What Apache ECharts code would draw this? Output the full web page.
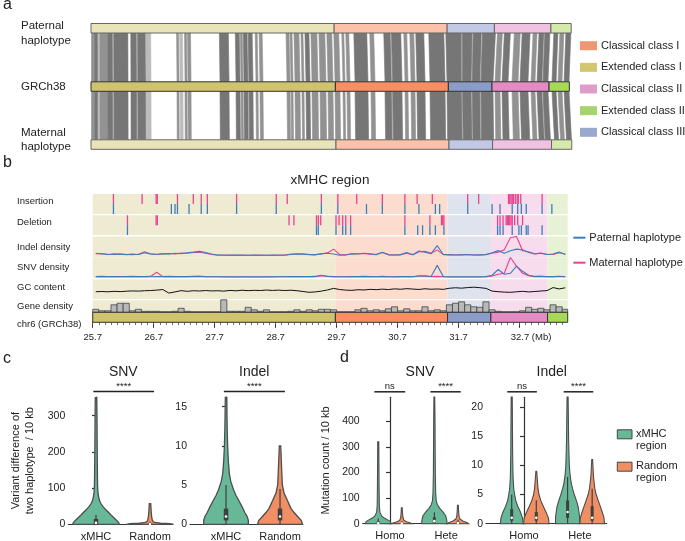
<!DOCTYPE html>
<html>
<head>
<meta charset="utf-8">
<script src="https://cdn.jsdelivr.net/npm/echarts@6.0.0/dist/echarts.min.js"></script>
<style>
html,body{margin:0;padding:0;background:#fff;}
#chart{width:685px;height:541px;}
</style>
</head>
<body>
<div id="chart"></div>
<script>
// ======================= DATA =======================
// ---- Panel a : haplotype alignment ----
const regionNames = ['Extended class I', 'Classical class I', 'Classical class III', 'Classical class II', 'Extended class II'];
const grchBounds = [25.7, 29.68, 31.52, 32.23, 33.16, 33.49];
const paternalBounds = [25.7, 29.66, 31.50, 32.27, 33.19, 33.52];
const maternalBounds = [25.7, 29.69, 31.53, 32.24, 33.20, 33.53];
const haplotypeLabels = ['Paternal\nhaplotype', 'GRCh38', 'Maternal\nhaplotype'];
const legendRegionOrder = ['Classical class I', 'Extended class I', 'Classical class II', 'Extended class II', 'Classical class III'];
// aligned blocks on GRCh38 [start Mb, end Mb, shade 0 dark / 1 mid / 2 light]
const syntenyBlocks = [
  [25.708, 25.765, 1], [25.765, 25.814, 0], [25.814, 25.847, 2], [25.847, 25.977, 1],
  [25.977, 26.058, 0], [26.058, 26.075, 2], [26.075, 26.303, 0], [26.351, 26.449, 0], [26.449, 26.465, 2], [26.465, 26.596, 0],
  [26.596, 26.677, 2], [27.101, 27.133, 1], [27.150, 27.198, 2], [27.231, 27.264, 1],
  [27.280, 27.329, 1], [27.801, 27.948, 0], [28.062, 28.127, 0], [28.143, 28.176, 1],
  [28.192, 28.262, 0], [28.262, 28.275, 2], [28.275, 28.338, 0], [28.387, 28.420, 1], [28.452, 28.501, 1], [28.892, 28.941, 1],
  [28.957, 28.990, 1], [29.022, 29.104, 1], [29.136, 29.169, 1], [29.202, 29.267, 0],
  [29.299, 29.397, 1], [29.430, 29.527, 1], [29.560, 29.641, 1], [29.674, 29.755, 1],
  [29.804, 29.837, 1], [29.869, 29.918, 1], [30.000, 30.211, 0], [30.260, 30.325, 1],
  [30.488, 30.600, 0], [30.600, 30.615, 2], [30.615, 30.765, 0], [30.814, 30.863, 1], [30.912, 30.977, 1], [31.009, 31.140, 0],
  [31.221, 31.466, 0], [31.498, 31.740, 0], [31.740, 31.752, 2], [31.752, 31.900, 0], [31.900, 31.912, 2],
  [31.912, 32.040, 0], [32.040, 32.052, 2], [32.052, 32.247, 0], [32.280, 32.361, 1], [32.394, 32.492, 0],
  [32.557, 32.655, 1], [32.687, 32.817, 0], [32.866, 32.931, 1], [32.964, 33.050, 0], [33.050, 33.062, 2], [33.062, 33.143, 0],
  [33.208, 33.274, 0], [33.306, 33.371, 1], [33.404, 33.485, 0]
];

// ---- Panel b : xMHC region tracks ----
const trackLabels = ['Insertion', 'Deletion', 'Indel density', 'SNV density', 'GC content', 'Gene density', 'chr6 (GRCh38)'];
const insertionMaternal = [26.04, 26.51, 26.74, 26.76, 27.09, 27.35, 27.48, 27.58, 28.06, 28.71, 28.89, 29.45, 29.72, 30.03, 30.45, 30.82, 31.02, 31.27, 31.85, 32.03, 32.52, 32.54, 32.56, 32.58, 32.60, 32.63, 32.66, 32.68, 32.72, 33.07];
const insertionPaternal = [26.04, 26.99, 27.05, 27.09, 27.28, 27.48, 27.58, 28.06, 28.71, 29.45, 29.72, 30.19, 30.45, 30.82, 31.05, 31.32, 31.39, 31.85, 32.25, 32.38, 32.58, 32.67, 32.73, 32.81, 33.07, 33.23];
const deletionMaternal = [26.27, 26.74, 26.76, 28.92, 29.00, 29.37, 29.40, 29.44, 29.69, 29.74, 29.80, 29.85, 29.93, 30.82, 31.23, 31.42, 31.44, 31.46, 32.34, 32.38, 32.43, 32.48, 32.50, 32.52, 32.54, 32.56, 32.58, 32.62, 32.67, 32.75];
const deletionPaternal = [26.27, 29.37, 29.40, 29.69, 29.80, 29.85, 29.93, 30.82, 31.03, 31.11, 31.23, 31.32, 31.46, 32.34, 32.38, 32.43, 32.58, 32.69, 32.73, 32.81, 32.84, 33.07];
const binStart = 25.7, binWidth = 0.1;
const indelDensityPaternal = [1.2,0.8,0.6,0.9,0.7,0.5,0.8,0.6,1.5,0.9, 0.7,1.0,0.8,1.2,1.0,1.5,1.8,2.2,1.6,0.8, 0.3,0.3,0.2,0.3,0.2,0.2,0.3,0.2,0.2,0.3, 0.2,0.2,0.6,0.8,0.7,0.5,0.4,0.9,1.2,0.8, 0.2,0.3,1.0,0.8,1.2,0.9,0.6,1.8,0.4,0.3, 0.5,1.6,0.4,2.4,1.8,1.0,5.2,0.6,0.5,0.3, 0.4,0.6,0.3,0.4,0.5,1.5,2.6,1.2,2.5,3.4, 3.0,1.6,0.8,1.2,0.6,0.8,1.9,0.6];
const indelDensityMaternal = [1.0,1.1,0.7,0.6,0.9,0.6,0.5,0.7,2.0,0.8, 0.6,0.9,1.1,0.9,1.3,1.2,1.6,1.8,1.2,0.6, 0.2,0.2,0.3,0.2,0.3,0.2,0.2,0.3,0.2,0.2, 0.3,0.3,0.8,1.0,0.9,0.6,0.5,1.0,1.4,3.4, 0.5,0.4,0.9,1.0,1.1,0.7,0.5,1.6,0.5,0.3, 0.4,1.2,0.5,2.0,2.2,1.2,3.0,0.5,0.4,0.3, 0.5,0.5,0.3,0.4,0.6,1.2,1.8,3.0,9.3,10.0, 2.5,2.0,1.0,1.3,0.7,0.6,1.5,0.8];
const snvDensityPaternal = [0.3,0.4,0.3,0.3,0.2,0.3,0.4,0.3,0.3,0.2, 0.3,0.3,0.4,0.3,0.3,0.3,0.4,0.5,0.3,0.2, 0.2,0.2,0.2,0.2,0.2,0.2,0.2,0.2,0.2,0.2, 0.2,0.2,0.3,0.3,0.3,0.3,0.4,1.0,0.5,0.3, 0.2,0.2,0.3,0.3,0.4,0.3,0.2,0.4,0.2,0.2, 0.3,0.3,0.2,0.6,0.7,0.4,6.0,0.3,0.2,0.2, 0.2,0.2,0.2,0.2,0.3,1.0,3.9,1.5,2.0,5.6, 3.0,1.0,0.4,0.5,0.3,0.3,0.5,0.3];
const snvDensityMaternal = [0.2,0.3,0.2,0.2,0.3,0.2,0.3,0.2,0.3,0.4, 2.5,0.3,0.2,0.3,0.2,0.3,0.3,0.4,0.2,0.2, 0.2,0.1,0.2,0.1,0.2,0.1,0.2,0.1,0.2,0.1, 0.2,0.2,0.2,0.3,0.2,0.3,0.3,0.8,0.4,0.3, 0.2,0.2,0.2,0.3,0.3,0.2,0.2,0.3,0.2,0.1, 0.2,0.2,0.2,0.7,0.5,0.3,0.4,0.2,0.1,0.1, 0.1,0.1,0.1,0.1,0.2,0.6,1.5,2.0,10.0,5.6, 2.0,0.8,0.3,0.4,0.2,0.2,0.3,0.2];
const gcContent = [37.4,37.6,37.3,37.8,37.5,37.9,38.2,38.0,38.4,38.6, 39.0,39.6,36.0,37.2,38.5,37.8,38.4,38.1,38.6,38.2, 38.4,38.0,38.7,38.3,38.9,38.5,38.8,38.6,39.1,38.7, 39.0,38.6,38.9,38.4,37.6,36.8,37.2,38.0,39.2, 40.8,39.6,39.0,38.8,39.4,39.2,39.8,39.5,40.0,39.6,40.3,39.9,40.5,40.1,39.7,40.4,39.9,40.2,39.8, 40.9,41.4,41.0,41.6,42.0,41.5,40.8, 38.0,37.4,37.0,36.8,37.3,37.8,37.2,37.6,38.1,38.5, 41.6,40.2,41.4];
const geneDensity = [3,1.5,1.5,7.5,9,9,1.5,3,1,1, 1,0.5,0.5,1,4,1,0.5,0.5,0.5,0.5, 0.5,12.5,1,1,1,5,2.5,1,2.5,0.5, 0.5,0.5,1,2.5,1,2.5,1.5,3,3,2.5, 0.5,0.5,0.5,2.5,4,1.5,2.5,1.5,3.5,5.5, 1.5,3.5,1.5,1.5,5.5,1.5,2.5,1.5,7.5,9, 10.5,7.5,5.5,5,10.5,2.5,1,0.5,0.5,0.5, 1.5,5,3,4,2.5,7.5,5.5,3];
const bTickValues = [25.7, 26.7, 27.7, 28.7, 29.7, 30.7, 31.7, 32.7];
const bTickLabels = ['25.7', '26.7', '27.7', '28.7', '29.7', '30.7', '31.7', '32.7 (Mb)'];
const haplotypeNames = ['Paternal haplotype', 'Maternal haplotype'];

// ---- Panel c : variant difference violins ----
const cCategories = ['xMHC', 'Random'];
const cSnvTicks = [0, 100, 200, 300];
const cIndelTicks = [0, 5, 10, 15];
const cSnvXmhcProfile = [[0,0.97],[3,0.98],[8,0.92],[12,0.86],[18,0.76],[25,0.65],[31,0.56],[40,0.42],[49,0.3],[58,0.2],[67,0.14],[86,0.085],[110,0.065],[200,0.05],[300,0.04],[350,0.03]];
const cSnvRandomProfile = [[0,1.0],[1.5,0.85],[3,0.45],[5,0.2],[8,0.12],[12,0.1],[20,0.07],[35,0.05],[57,0.03]];
const cIndelXmhcProfile = [[0,0.95],[0.5,0.95],[1,0.9],[1.5,0.8],[2.25,0.68],[3,0.55],[3.7,0.42],[4.4,0.32],[5.5,0.2],[6.5,0.14],[8,0.1],[9.9,0.07],[12,0.05],[16.2,0.03]];
const cIndelRandomProfile = [[0,0.96],[0.5,0.9],[1,0.75],[1.5,0.6],[2,0.47],[3,0.32],[4,0.17],[5,0.1],[7,0.07],[10,0.03]];
const cSnvXmhcBox = [0, 1, 4, 15, 26];
const cSnvRandomBox = [0, 0, 1, 3, 8];
const cIndelXmhcBox = [0, 0.5, 1, 2, 5];
const cIndelRandomBox = [0, 0.5, 1, 2, 4.5];
const cSigLabels = ['****', '****'];

// ---- Panel d : mutation count violins ----
const dCategories = ['Homo', 'Hete'];
const dGroups = ['xMHC\nregion', 'Random\nregion'];
const dSnvTicks = [0, 100, 200, 300, 400];
const dIndelTicks = [0, 5, 10, 15, 20];
const dSnvHomoXmhc = [[0,0.95],[8,0.9],[15,0.7],[22,0.45],[30,0.25],[45,0.12],[70,0.08],[150,0.06],[320,0.04]];
const dSnvHomoRandom = [[0,0.75],[4,0.6],[8,0.35],[14,0.15],[25,0.08],[45,0.05],[62,0.03]];
const dSnvHeteXmhc = [[0,0.95],[15,0.92],[30,0.85],[45,0.65],[60,0.4],[75,0.22],[90,0.14],[120,0.1],[200,0.07],[400,0.05],[495,0.03]];
const dSnvHeteRandom = [[0,0.8],[4,0.7],[10,0.4],[18,0.15],[30,0.08],[50,0.05],[72,0.03]];
const dIndelHomoXmhc = [[0,0.85],[1,0.8],[2,0.65],[3,0.45],[4,0.3],[5,0.22],[6,0.15],[8,0.1],[12,0.07],[21.7,0.04]];
const dIndelHomoRandom = [[0,0.95],[1,0.9],[2,0.72],[3,0.52],[4,0.33],[5,0.2],[6,0.13],[7.5,0.08],[9,0.03]];
const dIndelHeteXmhc = [[0,0.9],[1,0.9],[2,0.85],[3,0.78],[4,0.65],[5,0.5],[6,0.37],[7,0.27],[8.5,0.18],[10,0.13],[14,0.08],[21.7,0.04]];
const dIndelHeteRandom = [[0,0.92],[1,0.88],[2,0.75],[3,0.6],[4,0.45],[5,0.3],[6,0.2],[8,0.1],[11,0.03]];
const dSnvHomoXmhcBox = [0, 0, 2, 8, 20];
const dSnvHomoRandomBox = [0, 0, 1, 4, 10];
const dSnvHeteXmhcBox = [0, 3, 10, 25, 45];
const dSnvHeteRandomBox = [0, 1, 3, 8, 15];
const dIndelHomoXmhcBox = [0, 0.5, 1, 2.5, 5];
const dIndelHomoRandomBox = [0, 0.5, 1, 2, 4];
const dIndelHeteXmhcBox = [0, 1, 2, 4, 8];
const dIndelHeteRandomBox = [0, 0.5, 1, 3, 6];
const dSigLabels = ['ns', '****'];

// ======================= STYLE =======================
const FONT = '"Liberation Sans", Arial, sans-serif';
const TXT = '#222';
const solidColors = ['#cfc46b', '#f98e63', '#8b9cc9', '#e48bc4', '#a7d957'];
const lightColors = ['#e9e3b8', '#fcc1a9', '#c1c9e4', '#f1c1e1', '#d5e9aa'];
const bgColors = ['#efebd3', '#fbdccf', '#dfe3ee', '#f6dced', '#e7f1d4'];
const legendColors = {'Classical class I': '#ef9773', 'Extended class I': '#d2c66e', 'Classical class II': '#e09cc9', 'Extended class II': '#a8d26e', 'Classical class III': '#9aa8cd'};
const shadeColors = ['#767676', '#929292', '#bcbcbc'];
const BLUE = '#3a7fbc', PINK = '#e8438f';
const GREEN = '#67b899', ORANGE = '#f08e64';

// ======================= BUILD =======================
const grids = [], xAxis = [], yAxis = [], series = [], graphics = [];
function addGrid(rect, xa, ya) {
  grids.push(Object.assign({outerBoundsMode: 'none', containLabel: false}, rect));
  const gi = grids.length - 1;
  xa.gridIndex = gi; ya.gridIndex = gi;
  xAxis.push(xa); yAxis.push(ya);
  return {gi: gi, xi: xAxis.length - 1, yi: yAxis.length - 1};
}
function hidden(min, max, extra) {
  return Object.assign({type: 'value', min: min, max: max, show: false}, extra || {});
}
function mapPos(v, from, to) {
  for (let k = 0; k < from.length - 1; k++) {
    if (v <= from[k + 1] || k === from.length - 2) {
      const t = (v - from[k]) / (from[k + 1] - from[k]);
      return to[k] + t * (to[k + 1] - to[k]);
    }
  }
}
function text(str, x, y, size, opts) {
  graphics.push(Object.assign({
    type: 'text', silent: true,
    style: Object.assign({text: str, x: x, y: y, fill: TXT, fontSize: size, fontFamily: FONT,
      align: 'left', textAlign: 'left', verticalAlign: 'middle', textVerticalAlign: 'middle'}, (opts && opts.style) || {})
  }, (opts && opts.el) || {}));
}

// ---------- Panel a ----------
const ROW_TOP = [0, 58.3, 116.3], BAR_H = 9.5;
const A = addGrid({left: 91, top: 23.5, width: 481.4, height: 126}, hidden(25.7, 33.54), hidden(0, 126, {inverse: true}));
series.push({
  type: 'custom', xAxisIndex: A.xi, yAxisIndex: A.yi, silent: true, clip: false, z: 1,
  data: syntenyBlocks.map(b => [b[0], b[1]]),
  renderItem: function (params, api) {
    const b = syntenyBlocks[params.dataIndex];
    const col = shadeColors[b[2]];
    const g0 = b[0], g1 = b[1];
    const p0 = mapPos(g0, grchBounds, paternalBounds), p1 = mapPos(g1, grchBounds, paternalBounds);
    const m0 = mapPos(g0, grchBounds, maternalBounds), m1 = mapPos(g1, grchBounds, maternalBounds);
    const yT1 = ROW_TOP[0] + BAR_H, yT2 = ROW_TOP[1], yB1 = ROW_TOP[1] + BAR_H, yB2 = ROW_TOP[2];
    const top = [api.coord([p0, yT1]), api.coord([p1, yT1]), api.coord([g1, yT2]), api.coord([g0, yT2])];
    const bot = [api.coord([g0, yB1]), api.coord([g1, yB1]), api.coord([m1, yB2]), api.coord([m0, yB2])];
    return {type: 'group', children: [
      {type: 'polygon', shape: {points: top}, style: {fill: col, stroke: col, lineWidth: 0.6}},
      {type: 'polygon', shape: {points: bot}, style: {fill: col, stroke: col, lineWidth: 0.6}}
    ]};
  }
});
const hapBars = [];
[paternalBounds, grchBounds, maternalBounds].forEach((bd, row) => {
  for (let k = 0; k < bd.length - 1; k++) hapBars.push([bd[k], bd[k + 1], row, k]);
});
series.push({
  type: 'custom', xAxisIndex: A.xi, yAxisIndex: A.yi, silent: true, clip: false, z: 2,
  data: hapBars,
  renderItem: function (params, api) {
    const d = hapBars[params.dataIndex];
    const p0 = api.coord([d[0], ROW_TOP[d[2]]]), p1 = api.coord([d[1], ROW_TOP[d[2]] + BAR_H]);
    const mid = d[2] === 1;
    return {type: 'rect', shape: {x: p0[0], y: p0[1], width: p1[0] - p0[0], height: p1[1] - p0[1]},
      style: {fill: mid ? solidColors[d[3]] : lightColors[d[3]], stroke: mid ? '#333' : '#666', lineWidth: 1}};
  }
});
text('a', 3, 5, 16);
text(haplotypeLabels[0], 21, 33.2, 11.5, {style: {lineHeight: 15}});
text(haplotypeLabels[1], 21, 87, 11.5);
text(haplotypeLabels[2], 21, 139.6, 11.5, {style: {lineHeight: 14}});
legendRegionOrder.forEach((name, i) => {
  const cy = 45.7 + i * 21.65;
  graphics.push({type: 'rect', silent: true, shape: {x: 580, y: cy - 4.5, width: 17, height: 9}, style: {fill: legendColors[name]}});
  text(name, 601, cy, 11);
});

// ---------- Panel b ----------
const BX = {left: 92.7, width: 475};
const XMIN = 25.7, XMAX = 33.49;
function trackGrid(top, height, ymin, ymax) {
  return addGrid({left: BX.left, width: BX.width, top: top, height: height}, hidden(XMIN, XMAX), hidden(ymin, ymax));
}
function bgSeries(T, ymin, ymax) {
  const regs = [];
  for (let k = 0; k < grchBounds.length - 1; k++) regs.push([grchBounds[k], grchBounds[k + 1]]);
  series.push({
    type: 'custom', xAxisIndex: T.xi, yAxisIndex: T.yi, silent: true, clip: false, z: 0,
    data: regs,
    renderItem: function (params, api) {
      const r = regs[params.dataIndex];
      const p0 = api.coord([r[0], ymax]), p1 = api.coord([r[1], ymin]);
      return {type: 'rect', shape: {x: p0[0], y: p0[1], width: p1[0] - p0[0], height: p1[1] - p0[1]}, style: {fill: bgColors[params.dataIndex]}};
    }
  });
}
function tickSeries(T, positions, lane, color) {
  series.push({
    type: 'custom', xAxisIndex: T.xi, yAxisIndex: T.yi, silent: true, clip: false, z: 2,
    data: positions.map(p => [p, lane]),
    renderItem: function (params, api) {
      const p = positions[params.dataIndex];
      const a = api.coord([p, lane]), b = api.coord([p, lane + 1]);
      return {type: 'line', shape: {x1: a[0], y1: a[1], x2: b[0], y2: b[1]}, style: {stroke: color, lineWidth: 1.3}};
    }
  });
}
function binned(values) { return values.map((v, i) => [binStart + (i + 0.5) * binWidth, v]); }
function lineSeries(T, name, values, color, width, z) {
  series.push({
    type: 'line', name: name, xAxisIndex: T.xi, yAxisIndex: T.yi, data: binned(values),
    symbol: 'none', showSymbol: false, clip: false, silent: true, z: z || 3,
    lineStyle: {color: color, width: width}, itemStyle: {color: color}
  });
}

const T_INS = trackGrid(194, 20, 0, 2);
bgSeries(T_INS, 0, 2);
tickSeries(T_INS, insertionMaternal, 1, PINK);
tickSeries(T_INS, insertionPaternal, 0, BLUE);

const T_DEL = trackGrid(215.3, 19.8, 0, 2);
bgSeries(T_DEL, 0, 2);
tickSeries(T_DEL, deletionMaternal, 1, PINK);
tickSeries(T_DEL, deletionPaternal, 0, BLUE);

const T_IND = trackGrid(236.5, 21, -1, 10);
bgSeries(T_IND, -1, 10);
lineSeries(T_IND, haplotypeNames[1], indelDensityMaternal, PINK, 1.1, 3);
lineSeries(T_IND, haplotypeNames[0], indelDensityPaternal, BLUE, 1.1, 4);

const T_SNV = trackGrid(257.5, 20.5, -0.4, 10);
bgSeries(T_SNV, -0.4, 10);
lineSeries(T_SNV, haplotypeNames[1], snvDensityMaternal, PINK, 1.1, 3);
lineSeries(T_SNV, haplotypeNames[0], snvDensityPaternal, BLUE, 1.1, 4);

const T_GC = trackGrid(279.3, 19.7, 30, 50);
bgSeries(T_GC, 30, 50);
lineSeries(T_GC, 'GC content', gcContent, '#111', 1, 3);

const T_GENE = trackGrid(300.3, 12, 0, 12);
bgSeries(T_GENE, 0, 12);
series.push({
  type: 'custom', xAxisIndex: T_GENE.xi, yAxisIndex: T_GENE.yi, silent: true, clip: false, z: 2,
  data: geneDensity.map((v, i) => [binStart + i * binWidth, v]),
  renderItem: function (params, api) {
    const i = params.dataIndex;
    const x0 = binStart + i * binWidth, x1 = Math.min(XMAX, x0 + binWidth);
    const p0 = api.coord([x0, geneDensity[i]]), p1 = api.coord([x1, 0]);
    return {type: 'rect', shape: {x: p0[0], y: p0[1], width: p1[0] - p0[0], height: p1[1] - p0[1]},
      style: {fill: '#b9b9b9', stroke: '#454545', lineWidth: 0.8}};
  }
});

const minorTicks = [];
for (let k = 0; k <= 77; k++) minorTicks.push(+(25.7 + k * 0.1).toFixed(2));
const T_CHR = addGrid({left: BX.left, width: BX.width, top: 312.3, height: 10},
  {type: 'value', min: XMIN, max: XMAX, position: 'bottom',
    axisLine: {show: false}, splitLine: {show: false},
    axisTick: {show: true, customValues: bTickValues, length: 5.5, lineStyle: {color: '#333', width: 1}},
    axisLabel: {show: true, customValues: bTickValues, margin: 10, fontSize: 9.5, color: TXT, fontFamily: FONT,
      formatter: function (v) {
        const i = bTickValues.findIndex(t => Math.abs(t - v) < 1e-6);
        const lab = i >= 0 ? bTickLabels[i] : '';
        return lab.indexOf('(') >= 0 ? '{s| }' + lab : lab;
      },
      rich: {s: {width: 23}}}},
  hidden(0, 1));
xAxis.push({type: 'value', gridIndex: T_CHR.gi, min: XMIN, max: XMAX, position: 'bottom',
  axisLine: {show: false}, splitLine: {show: false}, axisLabel: {show: false},
  axisTick: {show: true, customValues: minorTicks, length: 2.8, lineStyle: {color: '#555', width: 0.8}}});
const chrRegs = [];
for (let k = 0; k < grchBounds.length - 1; k++) chrRegs.push([grchBounds[k], grchBounds[k + 1]]);
series.push({
  type: 'custom', xAxisIndex: T_CHR.xi, yAxisIndex: T_CHR.yi, silent: true, clip: false, z: 3,
  data: chrRegs,
  renderItem: function (params, api) {
    const r = chrRegs[params.dataIndex];
    const p0 = api.coord([r[0], 1]), p1 = api.coord([r[1], 0]);
    return {type: 'rect', shape: {x: p0[0], y: p0[1], width: p1[0] - p0[0], height: p1[1] - p0[1]},
      style: {fill: solidColors[params.dataIndex], stroke: '#333', lineWidth: 1}};
  }
});
text('b', 3, 163, 16);
text('xMHC region', 330, 180, 13.5, {style: {align: 'center', textAlign: 'center'}});
const trackLabelY = [201.7, 222.7, 247, 267.7, 287.7, 306.7, 324];
trackLabels.forEach((t, i) => text(t, 17, trackLabelY[i], 9.5));
[[haplotypeNames[0], BLUE, 237.7], [haplotypeNames[1], PINK, 262.7]].forEach(function (it) {
  graphics.push({type: 'line', silent: true, shape: {x1: 573.3, y1: it[2], x2: 585.5, y2: it[2]}, style: {stroke: it[1], lineWidth: 2}});
  text(it[0], 589.3, it[2], 11);
});

// ---------- Panels c & d: violins ----------
function violinGrid(rect, xmin, xmax, ymax, ticks, cats, catPos, yName, nameGap) {
  return addGrid(rect,
    {type: 'value', min: xmin, max: xmax, splitLine: {show: false},
      axisLine: {show: true, lineStyle: {color: '#333', width: 1.2}},
      axisTick: {show: false},
      axisLabel: {show: true, customValues: catPos, margin: 7, fontSize: 11, color: TXT, fontFamily: FONT,
        formatter: function (v) { const i = catPos.findIndex(c => Math.abs(c - v) < 1e-6); return i >= 0 ? cats[i] : ''; }}},
    {type: 'value', min: 0, max: ymax, splitLine: {show: false},
      axisLine: {show: true, lineStyle: {color: '#333', width: 1.2}},
      axisTick: {show: true, customValues: ticks, length: 4, lineStyle: {color: '#333', width: 1.2}},
      axisLabel: {show: true, customValues: ticks, margin: 3, fontSize: 10.5, color: TXT, fontFamily: FONT},
      name: yName || '', nameLocation: 'middle', nameRotate: 90, nameGap: nameGap || 30,
      nameMoveOverlap: false,
      nameTextStyle: {fontSize: 11, color: TXT, fontFamily: FONT, lineHeight: 14}});
}
function violinSeries(G, items, halfW, boxW, lw) {
  series.push({
    type: 'custom', xAxisIndex: G.xi, yAxisIndex: G.yi, silent: true, clip: false, z: 3,
    data: items.map(it => [it.x, 0]),
    renderItem: function (params, api) {
      const it = items[params.dataIndex];
      const left = [], right = [];
      it.profile.forEach(function (pw) {
        left.push(api.coord([it.x - pw[1] * halfW, pw[0]]));
        right.push(api.coord([it.x + pw[1] * halfW, pw[0]]));
      });
      const pts = left.concat(right.reverse());
      const b = it.box;
      const w0 = api.coord([it.x, b[0]]), w1 = api.coord([it.x, b[4]]);
      const q1 = api.coord([it.x, b[1]]), q3 = api.coord([it.x, b[3]]), md = api.coord([it.x, b[2]]);
      return {type: 'group', children: [
        {type: 'polygon', shape: {points: pts}, style: {fill: it.color, stroke: '#4d4d4d', lineWidth: lw}},
        {type: 'line', shape: {x1: w0[0], y1: w0[1], x2: w1[0], y2: w1[1]}, style: {stroke: '#3f3f3f', lineWidth: 1.2}},
        {type: 'rect', shape: {x: q1[0] - boxW / 2, y: q3[1], width: boxW, height: Math.max(1, q1[1] - q3[1])}, style: {fill: '#3f3f3f'}},
        {type: 'circle', shape: {cx: md[0], cy: md[1], r: 1.3}, style: {fill: '#fff'}}
      ]};
    }
  });
}
function sigSeries(G, spans, labels, ymax) {
  series.push({
    type: 'custom', xAxisIndex: G.xi, yAxisIndex: G.yi, silent: true, clip: false, z: 3,
    data: spans,
    renderItem: function (params, api) {
      const s = spans[params.dataIndex];
      const a = api.coord([s[0], ymax]), b = api.coord([s[1], ymax]);
      const y = a[1] - 5.5;
      return {type: 'group', children: [
        {type: 'line', shape: {x1: a[0], y1: y, x2: b[0], y2: y}, style: {stroke: '#222', lineWidth: 1.5}},
        {type: 'text', style: {text: labels[params.dataIndex], x: (a[0] + b[0]) / 2, y: y - 0.5, align: 'center', verticalAlign: 'bottom',
          textAlign: 'center', textVerticalAlign: 'bottom', fontSize: 9.5, fontFamily: FONT, fill: '#222'}}
      ]};
    }
  });
}

// panel c
const C1 = violinGrid({left: 68.3, top: 397, width: 103.7, height: 127.3}, -0.513, 1.407, 351.6, cSnvTicks, cCategories, [0, 1],
  'Variant difference of\ntwo haplotype  / 10 kb', 31);
violinSeries(C1, [
  {x: 0, profile: cSnvXmhcProfile, box: cSnvXmhcBox, color: GREEN},
  {x: 1, profile: cSnvRandomProfile, box: cSnvRandomBox, color: ORANGE}], 0.435, 4.5, 1.3);
sigSeries(C1, [[-0.05, 1.075]], [cSigLabels[0]], 351.6);
const C2 = violinGrid({left: 190, top: 397, width: 112, height: 127.3}, -0.667, 1.407, 16.24, cIndelTicks, cCategories, [0, 1]);
violinSeries(C2, [
  {x: 0, profile: cIndelXmhcProfile, box: cIndelXmhcBox, color: GREEN},
  {x: 1, profile: cIndelRandomProfile, box: cIndelRandomBox, color: ORANGE}], 0.435, 4.5, 1.3);
sigSeries(C2, [[-0.04, 1.09]], [cSigLabels[1]], 16.24);
text('c', 3, 359, 16);
text('SNV', 123.3, 371.7, 14, {style: {align: 'center', textAlign: 'center'}});
text('Indel', 254.3, 371.7, 14, {style: {align: 'center', textAlign: 'center'}});

// panel d
const D1 = violinGrid({left: 362.7, top: 397.3, width: 105.3, height: 126.4}, -0.4875, 1.39, 493.7, dSnvTicks, dCategories, [0, 1],
  'Mutation count / 10 kb', 29.5);
violinSeries(D1, [
  {x: -0.21, profile: dSnvHomoXmhc, box: dSnvHomoXmhcBox, color: GREEN},
  {x: 0.21, profile: dSnvHomoRandom, box: dSnvHomoRandomBox, color: ORANGE},
  {x: 0.79, profile: dSnvHeteXmhc, box: dSnvHeteXmhcBox, color: GREEN},
  {x: 1.21, profile: dSnvHeteRandom, box: dSnvHeteRandomBox, color: ORANGE}], 0.24, 3, 1.1);
sigSeries(D1, [[-0.28, 0.27], [0.72, 1.26]], dSigLabels, 493.7);
const D2 = violinGrid({left: 486, top: 397.3, width: 120.7, height: 126.4}, -0.68, 1.48, 21.66, dIndelTicks, dCategories, [0, 1]);
violinSeries(D2, [
  {x: -0.22, profile: dIndelHomoXmhc, box: dIndelHomoXmhcBox, color: GREEN},
  {x: 0.22, profile: dIndelHomoRandom, box: dIndelHomoRandomBox, color: ORANGE},
  {x: 0.78, profile: dIndelHeteXmhc, box: dIndelHeteXmhcBox, color: GREEN},
  {x: 1.22, profile: dIndelHeteRandom, box: dIndelHeteRandomBox, color: ORANGE}], 0.24, 3, 1.1);
sigSeries(D2, [[-0.3, 0.23], [0.71, 1.24]], dSigLabels, 21.66);
text('d', 340, 358, 16);
text('SNV', 420, 371.7, 14, {style: {align: 'center', textAlign: 'center'}});
text('Indel', 551.7, 371.7, 14, {style: {align: 'center', textAlign: 'center'}});
[[GREEN, 434.3, dGroups[0]], [ORANGE, 466.7, dGroups[1]]].forEach(function (it) {
  graphics.push({type: 'rect', silent: true, shape: {x: 617.3, y: it[1] - 4.5, width: 14.7, height: 9}, style: {fill: it[0], stroke: '#444', lineWidth: 1}});
  text(it[2], 636, it[1] + 5.7, 11, {style: {lineHeight: 12}});
});

const chart = echarts.init(document.getElementById('chart'), null, {renderer: 'canvas'});
chart.setOption({
  animation: false,
  backgroundColor: '#fff',
  textStyle: {fontFamily: FONT},
  grid: grids, xAxis: xAxis, yAxis: yAxis, series: series,
  graphic: {elements: graphics}
});
</script>
</body>
</html>
